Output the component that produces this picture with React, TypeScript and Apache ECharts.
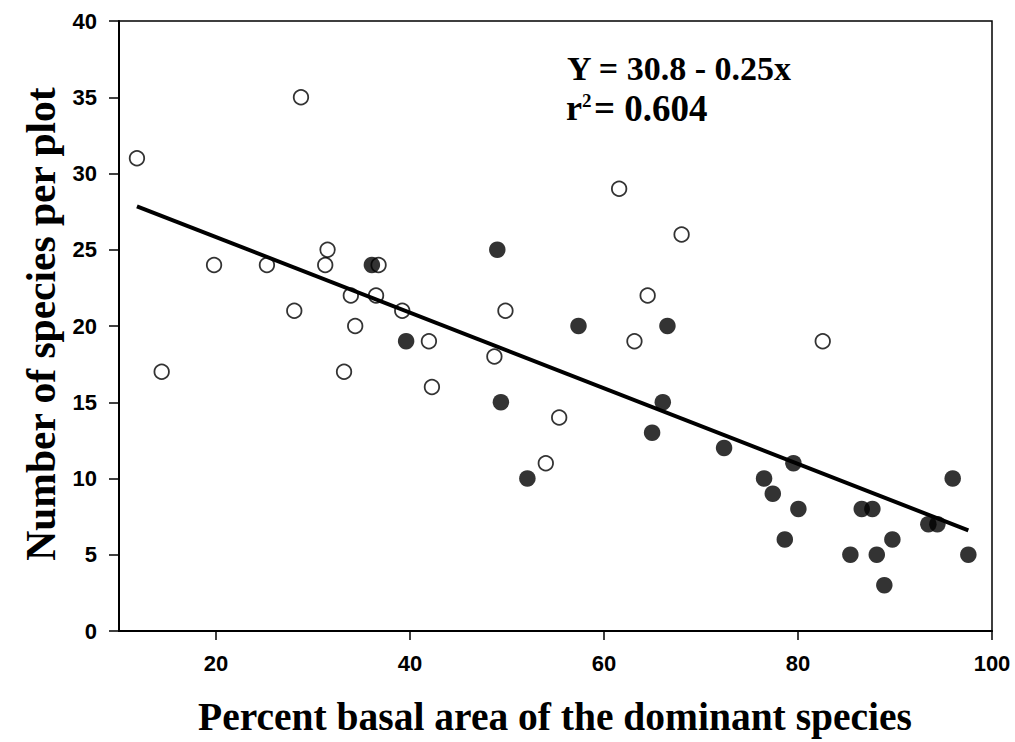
import React, { useEffect, useRef } from "react";
import * as echarts from "echarts";

// Open circles
const openX = [11.85, 14.4, 19.8, 25.25, 28.07, 28.76, 31.26, 31.5, 33.2, 33.9, 34.35, 36.5, 36.76, 39.2, 41.95, 42.26, 48.7, 49.84, 54.0, 55.38, 61.56, 63.14, 64.5, 68.0, 82.55];
const openY = [31, 17, 24, 24, 21, 35, 24, 25, 17, 22, 20, 22, 24, 21, 19, 16, 18, 21, 11, 14, 29, 19, 22, 26, 19];

// Filled circles
const filledX = [36.07, 39.6, 49.0, 49.37, 52.1, 57.37, 64.96, 66.06, 66.54, 72.38, 76.5, 77.4, 78.64, 79.53, 80.04, 85.4, 86.57, 87.67, 88.12, 88.9, 89.73, 93.44, 94.37, 95.95, 97.56];
const filledY = [24, 19, 25, 15, 10, 20, 13, 15, 20, 12, 10, 9, 6, 11, 8, 5, 8, 8, 5, 3, 6, 7, 7, 10, 5];

// Regression line endpoints
const fitX = [11.85, 97.56];
const fitY = [27.85, 6.6];

const xTicks = [20, 40, 60, 80, 100];
const yTicks = [0, 5, 10, 15, 20, 25, 30, 35, 40];

const xTitle = "Percent basal area of the dominant species";
const yTitle = "Number of species per plot";
const eqLine1 = "Y = 30.8 - 0.25x";
const eqR = "r";
const eqSup = "2";
const eqLine2 = "= 0.604";

const SANS = "'Liberation Sans', Arial, sans-serif";
const SERIF = "'Liberation Serif', 'Times New Roman', serif";

export default function App() {
  const ref = useRef<HTMLDivElement>(null);
  useEffect(() => {
    if (!ref.current) return;
    const chart = echarts.init(ref.current, undefined, { renderer: "svg" });
    const zip = (xs: number[], ys: number[]) => xs.map((x, i) => [x, ys[i]]);
    chart.setOption({
      animation: false,
      backgroundColor: "#ffffff",
      grid: {
        left: 119,
        right: 23,
        top: 21,
        bottom: 111,
        show: true,
        borderColor: "#000",
        borderWidth: 1.5,
        backgroundColor: "transparent",
      },
      xAxis: {
        type: "value",
        min: 10,
        max: 100,
        splitLine: { show: false },
        axisLine: { show: true, onZero: false, lineStyle: { color: "#000", width: 2 } },
        axisTick: { show: true, inside: false, length: 9, customValues: xTicks, lineStyle: { color: "#000", width: 1.5 } },
        axisLabel: {
          customValues: xTicks,
          margin: 21,
          color: "#000",
          fontFamily: SANS,
          fontWeight: "bold",
          fontSize: 22,
        },
      },
      yAxis: {
        type: "value",
        min: 0,
        max: 40,
        interval: 5,
        splitLine: { show: false },
        axisLine: { show: true, onZero: false, lineStyle: { color: "#000", width: 2 } },
        axisTick: { show: true, inside: false, length: 10, lineStyle: { color: "#000", width: 1.5 } },
        axisLabel: {
          margin: 22,
          color: "#000",
          fontFamily: SANS,
          fontWeight: "bold",
          fontSize: 22,
          formatter: (v: number) => (yTicks.includes(v) ? String(v) : ""),
        },
      },
      series: [
        {
          type: "scatter",
          data: zip(openX, openY),
          symbol: "circle",
          symbolSize: 14.5,
          itemStyle: { color: "#fff", borderColor: "#000", borderWidth: 1.8 },
          z: 2,
        },
        {
          type: "scatter",
          data: zip(filledX, filledY),
          symbol: "circle",
          symbolSize: 16.5,
          itemStyle: { color: "#000" },
          z: 3,
        },
        {
          type: "line",
          data: zip(fitX, fitY),
          showSymbol: false,
          symbol: "none",
          lineStyle: { color: "#000", width: 4 },
          z: 4,
        },
      ],
      graphic: [
        {
          type: "text",
          x: 555,
          y: 717,
          style: { text: xTitle, fill: "#000", font: `bold 39.5px ${SERIF}`, align: "center", verticalAlign: "middle" },
        },
        {
          type: "text",
          x: 41,
          y: 324,
          rotation: Math.PI / 2,
          style: { text: yTitle, fill: "#000", font: `bold 41.5px ${SERIF}`, align: "center", verticalAlign: "middle" },
        },
        {
          type: "text",
          x: 567,
          y: 68,
          style: { text: eqLine1, fill: "#000", font: `bold 34px ${SERIF}`, align: "left", verticalAlign: "middle" },
        },
        {
          type: "text",
          x: 566,
          y: 108,
          style: { text: eqR, fill: "#000", font: `bold 36px ${SERIF}`, align: "left", verticalAlign: "middle" },
        },
        {
          type: "text",
          x: 582,
          y: 100,
          style: { text: eqSup, fill: "#000", font: `bold 19px ${SERIF}`, align: "left", verticalAlign: "middle" },
        },
        {
          type: "text",
          x: 594,
          y: 108,
          style: { text: eqLine2, fill: "#000", font: `bold 37px ${SERIF}`, align: "left", verticalAlign: "middle" },
        },
      ],
    });
    return () => chart.dispose();
  }, []);
  return <div ref={ref} style={{ position: "absolute", left: 0, top: 0, width: 1015, height: 742 }} />;
}
